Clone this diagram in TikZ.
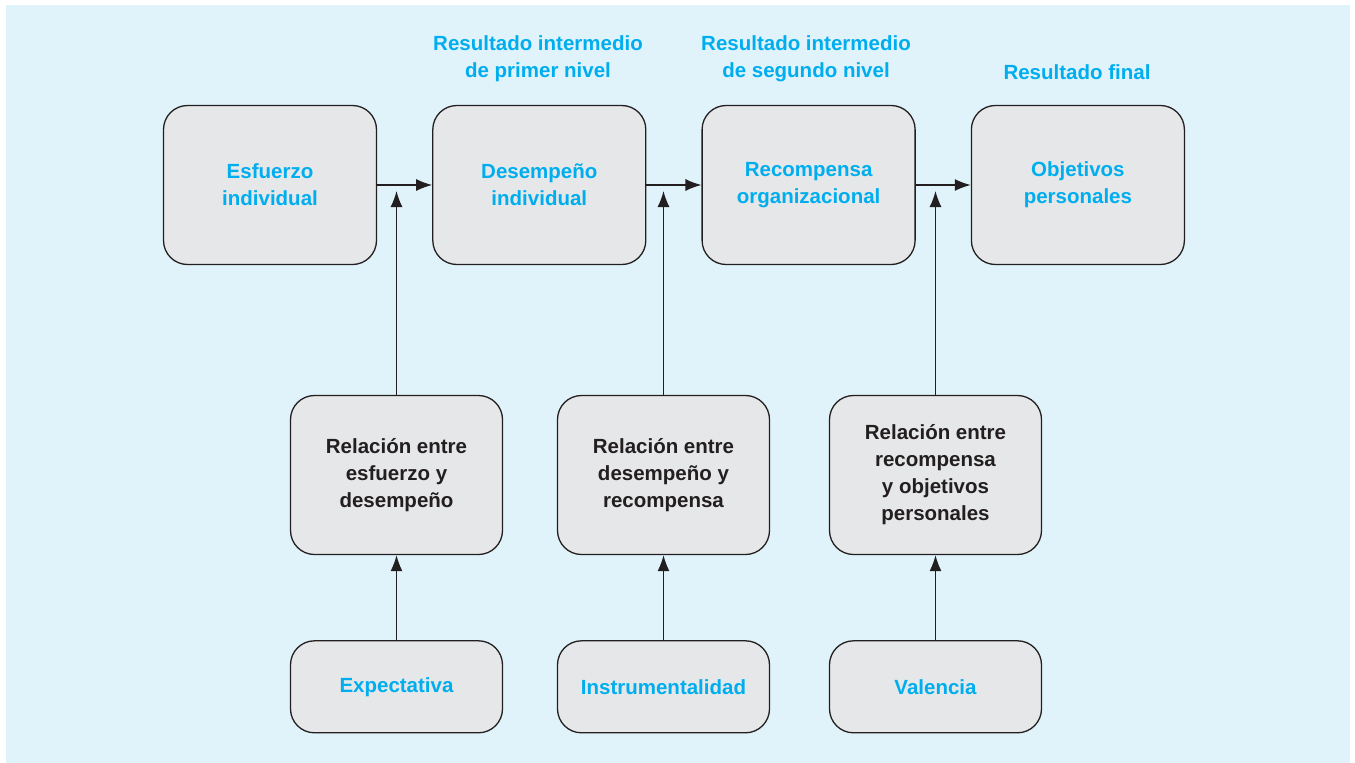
\documentclass[tikz,border=0pt]{standalone}
\usepackage{fontspec}
\setmainfont{Liberation Sans}
\usepackage{xcolor}
\usepackage{tikz}
\usetikzlibrary{arrows.meta,positioning}

\definecolor{bgblue}{RGB}{224,243,251}
\definecolor{boxgray}{RGB}{230,231,232}
\definecolor{txtblue}{RGB}{0,174,239}
\definecolor{inkblack}{RGB}{35,31,32}

\begin{document}
\begin{tikzpicture}[
    x=1pt, y=-1pt,
    node distance=55pt,
    stagebox/.style={draw=inkblack, line width=1.3pt, rounded corners=24pt, fill=boxgray, align=center, inner sep=0pt, minimum width=213pt, minimum height=159pt, font=\bfseries\fontsize{20.5}{27}\selectfont},
    outcome/.style={stagebox, text=txtblue},
    relation/.style={stagebox, text=inkblack, minimum width=212pt},
    factor/.style={stagebox, text=txtblue, minimum width=212pt, minimum height=92pt},
    headtext/.style={align=center, text=txtblue, font=\bfseries\fontsize{20.5}{27}\selectfont},
    arrow/.style={-{Latex[length=16pt,width=12pt]}, line width=1.3pt, draw=inkblack}
]
\useasboundingbox (0,0) rectangle (1355,763);
\fill[white] (0,0) rectangle (1355,763);
\fill[bgblue] (6,5) rectangle (1350,763);

% top row
\node[outcome] (e1) at (270,185) {Esfuerzo\\individual};
\node[outcome, right=of e1] (e2) {Desempeño\\individual};
\node[outcome, right=of e2] (e3) {Recompensa\\organizacional};
\node[outcome, right=of e3] (e4) {Objetivos\\personales};

\node[headtext] (h2) at (538,59) {Resultado intermedio\\de primer nivel};
\node[headtext] (h3) at (806,59) {Resultado intermedio\\de segundo nivel};
\node[headtext] (h4) at (1077,72.5) {Resultado final};

% middle row
\node[relation] (r1) at (396.5,475) {Relación entre\\esfuerzo y\\desempeño};
\node[relation] (r2) at (663.5,475) {Relación entre\\desempeño y\\recompensa};
\node[relation] (r3) at (935.5,475) {Relación entre\\recompensa\\y objetivos\\personales};

% bottom row
\node[factor, below=85pt of r1] (f1) {Expectativa};
\node[factor, below=85pt of r2] (f2) {Instrumentalidad};
\node[factor, below=85pt of r3] (f3) {Valencia};

\draw[arrow] (e1) -- (e2);
\draw[arrow] (e2) -- (e3);
\draw[arrow] (e3) -- (e4);

\coordinate (t1) at ([yshift=-6pt]r1.north |- e1.east);
\coordinate (t2) at ([yshift=-6pt]r2.north |- e2.east);
\coordinate (t3) at ([yshift=-6pt]r3.north |- e3.east);
\draw[arrow] (r1) -- (t1);
\draw[arrow] (r2) -- (t2);
\draw[arrow] (r3) -- (t3);

\draw[arrow] (f1) -- (r1);
\draw[arrow] (f2) -- (r2);
\draw[arrow] (f3) -- (r3);
\end{tikzpicture}
\end{document}
